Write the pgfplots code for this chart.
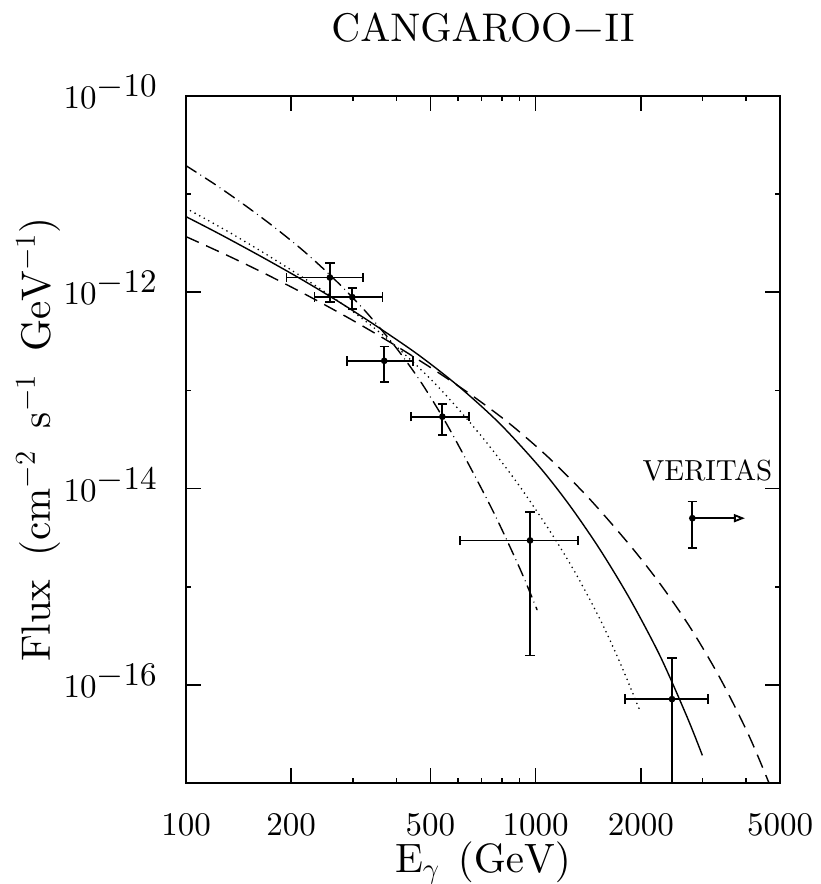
\documentclass[border=0pt]{standalone}
\usepackage{pgfplots}
\pgfplotsset{compat=1.18}
\usetikzlibrary{arrows.meta}
\font\tickfont=cmr10 at 16.5pt
\font\labfont=cmr10 at 20.5pt
\font\titfont=cmr10 at 20pt
\font\verfont=cmr10 at 14.5pt
\begin{document}
\begin{tikzpicture}
\path[use as bounding box] (-93pt,-50.35pt) rectangle (317pt,391.65pt);
\begin{axis}[
  at={(0,0)}, anchor=south west,
  scale only axis, width=297pt, height=343.8pt,
  xmode=log, ymode=log,
  xmin=100, xmax=5000, ymin=1e-17, ymax=1e-10,
  xtick={100,200,500,1000,2000,5000},
  xticklabels={100,200,500,1000,2000,5000},
  minor xtick={300,400,600,700,800,900,3000,4000},
  ytick={1e-16,1e-14,1e-12,1e-10},
  yticklabels={10\raisebox{6pt}{$-$16},10\raisebox{6pt}{$-$14},10\raisebox{6pt}{$-$12},10\raisebox{6pt}{$-$10}},
  minor ytick={1e-17,1e-15,1e-13,1e-11},
  tick align=inside,
  major tick length=7.5pt, minor tick length=2.5pt,
  every tick/.style={black, line width=0.8pt},
  axis line style={line width=1pt},
  tick label style={font=\fontsize{16.5}{20}\selectfont\tickfont},
  xticklabel style={anchor=base, inner sep=0pt, yshift=-25.85pt},
  yticklabel style={anchor=base east, inner sep=0pt, xshift=-14.5pt, yshift=-6.3pt},
  xlabel={E$_\gamma$\hspace{0.1em} (GeV)},
  ylabel={Flux\hspace{0.22em} (cm$^{-2}$\hspace{0.22em} s$^{-1}$\hspace{0.22em} GeV$^{-1}$)},
  xlabel style={at={(axis description cs:0.5,-0.129)}, anchor=base, inner sep=0pt, font=\fontsize{20.5}{24}\selectfont\labfont},
  ylabel style={at={(axis description cs:-0.229,0.5)}, anchor=base, inner sep=0pt, font=\fontsize{20.5}{24}\selectfont\labfont},
  title={CANGAROO$-$II},
  title style={at={(axis description cs:0.5,1.0621)}, anchor=base, inner sep=0pt, font=\fontsize{20}{24}\selectfont\titfont},
]
% solid
\addplot[black, line width=0.7pt, smooth] coordinates {
(100,5.875e-12) (125.1,3.890e-12) (162.8,2.340e-12) (211.9,1.378e-12) (275.9,7.836e-13)
(358.9,4.272e-13) (467.0,2.238e-13) (607.9,1.070e-13) (791.1,4.562e-14) (1029.4,1.639e-14)
(1254.3,6.668e-15) (1528.2,2.394e-15) (1862.1,7.494e-16) (2269.0,1.982e-16) (2710.0,4.758e-17)
(2998.6,1.926e-17)};
% dashed
\addplot[black, line width=0.7pt, smooth, dash pattern=on 7pt off 4pt] coordinates {
(100,3.678e-12) (133.6,2.299e-12) (173.9,1.456e-12) (226.3,8.967e-13) (294.5,5.357e-13)
(383.3,3.096e-13) (498.8,1.724e-13) (649.2,9.18e-14) (844.9,4.547e-14) (1099.5,2.008e-14)
(1430.8,7.77e-15) (1862.1,2.646e-15) (2269.0,1.076e-15) (2764.2,3.886e-16) (3369.2,1.177e-16)
(4105.6,2.886e-17) (5001,5.34e-18)};
% dotted
\addplot[black, line width=0.9pt, smooth, line cap=round, dash pattern=on 0pt off 2.6pt] coordinates {
(100,7.154e-12) (133.6,4.030e-12) (173.9,2.296e-12) (226.3,1.267e-12) (294.5,6.668e-13)
(383.3,3.189e-13) (498.8,1.321e-13) (607.9,6.185e-14) (740.6,2.662e-14) (902.4,1.043e-14)
(1099.5,3.686e-15) (1296.2,1.408e-15) (1528.2,4.68e-16) (1743.2,1.694e-16) (1988.7,5.45e-17)};
% dash-dot
\addplot[black, line width=0.7pt, smooth, line cap=round, dash pattern=on 6pt off 2.75pt on 0pt off 2.75pt] coordinates {
(100,1.940e-11) (121.0,1.252e-11) (147.5,7.656e-12) (179.7,4.530e-12) (219.0,2.552e-12)
(266.8,1.337e-12) (325.1,6.468e-13) (396.2,2.809e-13) (467.0,1.255e-13) (550.6,4.861e-14)
(649.2,1.666e-14) (765.5,5.362e-15) (902.4,1.523e-15) (1009.3,5.855e-16)};
% CANGAROO-II data
\addplot[black, only marks, mark=*, mark size=1.2pt, line width=0.9pt,
  error bars/.cd, x dir=both, x explicit, y dir=both, y explicit,
  error bar style={line width=0.9pt},
  error mark options={rotate=90, mark size=2.35pt, line width=0.9pt}]
coordinates {
(258,1.41e-12) += (63,0.59e-12) -= (64,0.61e-12)
(299,8.9e-13) += (66,0.22e-12) -= (66,0.22e-12)
(369,2.0e-13) += (78,0.8e-13) -= (81,0.79e-13)
(541,5.4e-14) += (105,1.9e-14) -= (102,1.9e-14)
(964,2.97e-15) += (358,2.83e-15) -= (356,2.77e-15)
(2455,7.2e-17) += (653,1.17e-16) -= (653,7.15e-17)
};
% VERITAS
\addplot[black, only marks, mark=*, mark size=1.2pt, line width=0.9pt,
  error bars/.cd, y dir=both, y explicit,
  error bar style={line width=0.9pt},
  error mark options={rotate=90, mark size=2.35pt, line width=0.9pt}]
coordinates {(2807,5.0e-15) += (0,2.4e-15) -= (0,2.5e-15)};
\addplot[black, line width=0.9pt, -{Triangle[open, length=5.5pt, width=4pt]}] coordinates {(2807,5.0e-15) (3970,5.0e-15)};
\node[font=\verfont, inner sep=0pt] at (axis cs:3102,1.52e-14) {VERITAS};
\end{axis}
\end{tikzpicture}
\end{document}
